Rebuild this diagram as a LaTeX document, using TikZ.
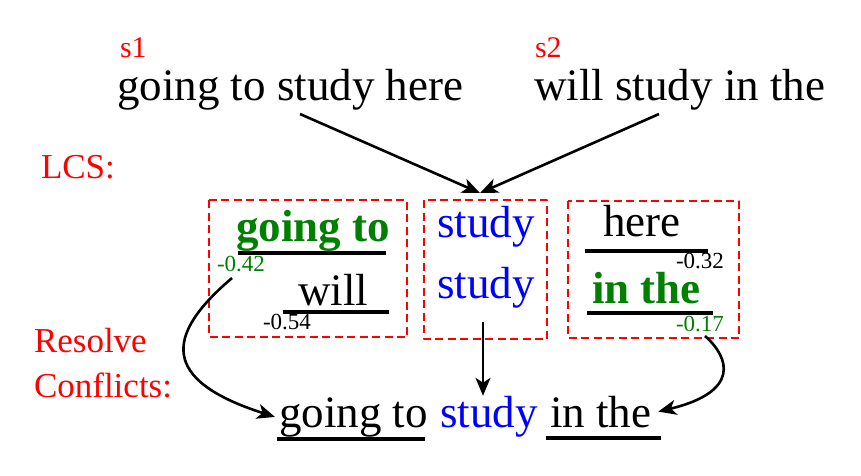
\documentclass[tikz,border=0pt]{standalone}
\usepackage{fontspec}
\setmainfont{LiberationSerif}[Extension=.ttf, UprightFont=*-Regular, BoldFont=*-Bold]
\usetikzlibrary{arrows.meta}
\definecolor{lcsred}{RGB}{255,0,0}
\definecolor{lcsgreen}{RGB}{0,128,0}
\definecolor{lcsblue}{RGB}{0,0,255}
\tikzset{
  every node/.style={inner sep=0pt, outer sep=0pt, anchor=base west},
  word/.style={font=\fontsize{45}{54}\selectfont},
  boldword/.style={font=\fontsize{45}{54}\selectfont\bfseries, text=lcsgreen},
  tag/.style={font=\fontsize{30}{36}\selectfont, text=lcsred},
  stagelbl/.style={font=\fontsize{35}{42}\selectfont, text=lcsred},
  score/.style={font=\fontsize{23}{28}\selectfont},
  lcsbox/.style={draw=lcsred, line width=2.5pt, dash pattern=on 8pt off 4.5pt},
  uline/.style={line width=3.5pt},
  arr/.style={->, line width=2.6pt}
}
\begin{document}
\begin{tikzpicture}[x=1pt, y=-1pt, line join=round, >={Stealth[length=18pt,width=15pt,inset=5pt]}]
	\useasboundingbox (0,0) rectangle (861,475);
	% input sentences
	\node[tag] (sone) at (120,57) {s1};
	\node[word] (seqone) at (117,100) {going to study here};
	\node[tag] (stwo) at (535,57) {s2};
	\node[word] (seqtwo) at (534,100) {will study in the};
	\node[stagelbl] (lcs) at (41,178) {LCS:};
	\node[stagelbl] (resolve) at (34,352) {Resolve};
	\node[stagelbl] (conflicts) at (34,397) {Conflicts:};
	% conflict blocks
	\draw[lcsbox] (209,200) rectangle (407,337);
	\draw[lcsbox] (424,200) rectangle (547,339);
	\draw[lcsbox] (568,201) rectangle (739,338);
	\node[boldword] (goingto) at (236,241) {going to};
	\node[score, text=lcsgreen] (sgoingto) at (217,271) {-0.42};
	\node[word] (will) at (298,305) {will};
	\node[score] (swill) at (263,329) {-0.54};
	\node[word, text=lcsblue] (studya) at (437,237) {study};
	\node[word, text=lcsblue] (studyb) at (437,298) {study};
	\node[word] (here) at (603,236) {here};
	\node[score] (shere) at (676,268) {-0.32};
	\node[boldword] (inthe) at (592,303) {in the};
	\node[score, text=lcsgreen] (sinthe) at (676,331) {-0.17};
	% result
	\node[word] (rgoingto) at (279,427) {going to};
	\node[word, text=lcsblue] (rstudy) at (440,427) {study};
	\node[word] (rinthe) at (550,427) {in the};
	\draw[uline] (238,253) -- (386,253) (283,312) -- (389,312)
		(585,251) -- (708,251) (587,313) -- (713,313)
		(277,439) -- (425,439) (546,438) -- (661,438);
	\path
	(300,114) coordinate (fromone)
	(659,114) coordinate (fromtwo)
	(480,193) coordinate (lcstop)
	(483,322) coordinate (fromstudy)
	(232,278) coordinate (fromleft)
	(705,336) coordinate (fromright)
	;
	\draw[arr] (fromone) -- (lcstop);
	\draw[arr] (fromtwo) -- (lcstop);
	\draw[arr] (fromstudy) -- (fromstudy |- rstudy.north);
	\draw[arr] (fromleft) .. controls (165,335) and (160,380) .. ([xshift=-4pt]rgoingto.west);
	\draw[arr] (fromright) .. controls (730,358) and (740,392) .. ([xshift=7pt]rinthe.east);
\end{tikzpicture}
\end{document}
